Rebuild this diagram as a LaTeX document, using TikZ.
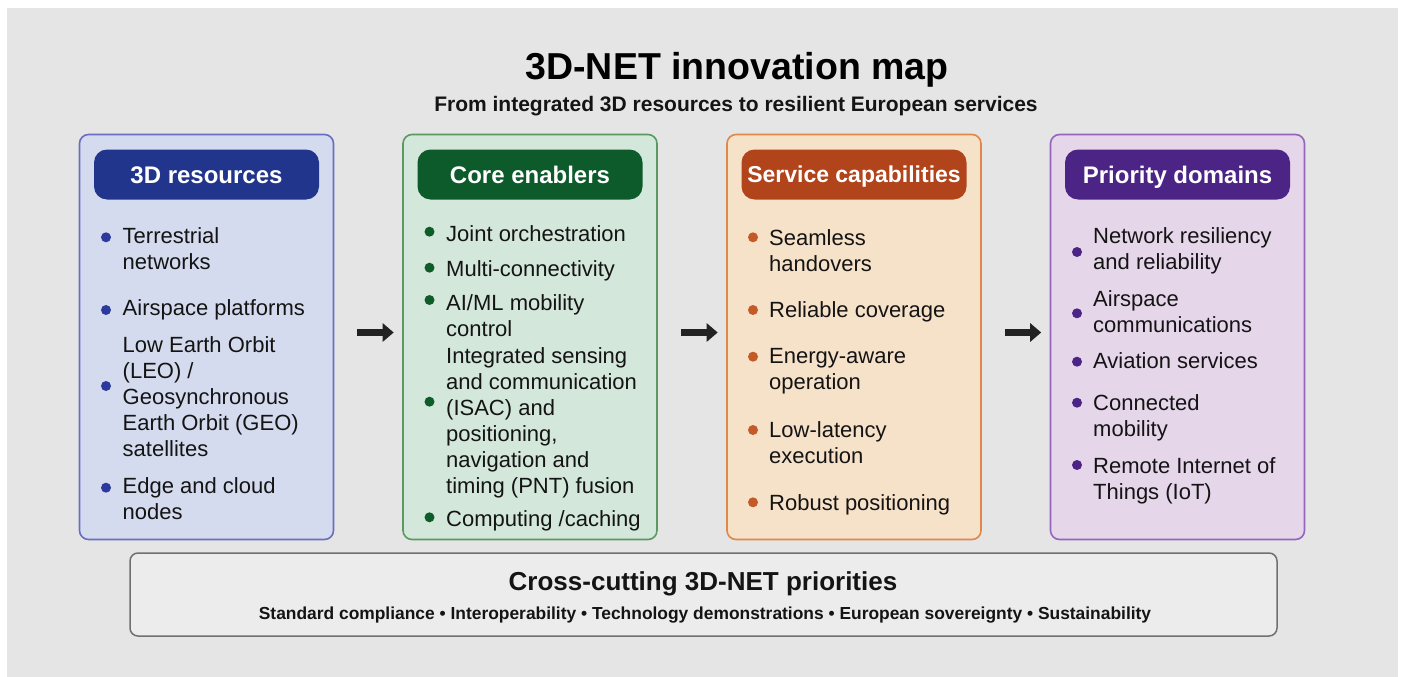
\documentclass[tikz,border=0pt]{standalone}
\usepackage{fontspec}
\setmainfont{Liberation Sans}
\usetikzlibrary{arrows.meta}
\definecolor{bgc}{HTML}{E5E5E5}
\definecolor{txt}{HTML}{141414}
\definecolor{fillA}{HTML}{D5DBEE}
\definecolor{lineA}{HTML}{6A6EC2}
\definecolor{headA}{HTML}{22358C}
\definecolor{dotA}{HTML}{2C3A9E}
\definecolor{fillB}{HTML}{D4E7DB}
\definecolor{lineB}{HTML}{5A9A60}
\definecolor{headB}{HTML}{0D5A2B}
\definecolor{dotB}{HTML}{0F5C2B}
\definecolor{fillC}{HTML}{F6E1C9}
\definecolor{lineC}{HTML}{E0874A}
\definecolor{headC}{HTML}{B1441B}
\definecolor{dotC}{HTML}{C45A28}
\definecolor{fillD}{HTML}{E5D6EA}
\definecolor{lineD}{HTML}{9464C0}
\definecolor{headD}{HTML}{4B2485}
\definecolor{dotD}{HTML}{4B2485}
\definecolor{barfill}{HTML}{ECECEC}
\definecolor{barline}{HTML}{707070}
\definecolor{arrowc}{HTML}{222222}
\begin{document}
\begin{tikzpicture}[x=1pt,y=-1pt,
  colbox/.style={draw, line width=1.6pt, rounded corners=9pt, minimum width=254pt, minimum height=405pt, inner sep=0pt},
  pill/.style={rounded corners=13pt, minimum width=225pt, minimum height=50pt, inner sep=0pt, text=white, font=\bfseries\fontsize{24}{28}\selectfont, text height=17.2pt, text depth=0pt},
  item/.style={anchor=north west, inner sep=0pt, align=left, text=txt, font=\fontsize{22}{26}\selectfont},
  bigarrow/.style={draw=arrowc, line width=7.5pt, -{Triangle[length=11pt,width=18pt]}, shorten <=23pt, shorten >=8.5pt}
]
\useasboundingbox (0,0) rectangle (1405,677);
\fill[white] (0,0) rectangle (1405,677);
\fill[bgc] (7,8) rectangle (1398,677);

% title
\node[anchor=base, inner sep=0pt, text=black, font=\bfseries\fontsize{37.5}{42}\selectfont] (title) at (737,79) {3D-NET innovation map};
\node[anchor=base, inner sep=0pt, text=txt, font=\bfseries\fontsize{21}{25}\selectfont] (subtitle) at (736,111) {From integrated 3D resources to resilient European services};

% columns
\node[colbox, fill=fillA, draw=lineA] (c1) at (206.5,337) {};
\node[colbox, fill=fillB, draw=lineB] (c2) at (530,337) {};
\node[colbox, fill=fillC, draw=lineC] (c3) at (854,337) {};
\node[colbox, fill=fillD, draw=lineD] (c4) at (1177.5,337) {};

% headers
\node[pill, fill=headA] (h1) at (206.5,174.5) {3D resources};
\node[pill, fill=headB] (h2) at (530,174.5) {Core enablers};
\node[pill, fill=headC, font=\bfseries\fontsize{23}{27}\selectfont, text height=16.5pt] (h3) at (854,174.5) {Service capabilities};
\node[pill, fill=headD] (h4) at (1177.5,174.5) {Priority domains};

% column 1
\fill[dotA] (106,237.3) circle (5pt);
\node[item] (c1a) at (122.5,225.1) {\strut Terrestrial\\networks};
\fill[dotA] (106,310) circle (5pt);
\node[item] (c1b) at (122.5,296.8) {\strut Airspace platforms};
\fill[dotA] (106,386) circle (5pt);
\node[item] (c1c) at (122.5,334.5) {\strut Low Earth Orbit\\(LEO) /\\Geosynchronous\\Earth Orbit (GEO)\\satellites};
\fill[dotA] (106,487.7) circle (5pt);
\node[item] (c1d) at (122.5,474.8) {\strut Edge and cloud\\nodes};

% column 2
\fill[dotB] (429.5,231.7) circle (5pt);
\node[item] (c2a) at (446,222.8) {\strut Joint orchestration};
\fill[dotB] (429.5,267.7) circle (5pt);
\node[item] (c2b) at (446,258.5) {\strut Multi-connectivity};
\fill[dotB] (429.5,300) circle (5pt);
\node[item] (c2c) at (446,291.8) {\strut AI/ML mobility\\control};
\fill[dotB] (429.5,401.7) circle (5pt);
\node[item] (c2d) at (446,345.1) {\strut Integrated sensing\\and communication\\(ISAC) and\\positioning,\\navigation and\\timing (PNT) fusion};
\fill[dotB] (429.5,517.3) circle (5pt);
\node[item] (c2e) at (446,508.5) {\strut Computing /caching};

% column 3
\fill[dotC] (753,237.3) circle (5pt);
\node[item] (c3a) at (769,226.8) {\strut Seamless\\handovers};
\fill[dotC] (753,310) circle (5pt);
\node[item] (c3b) at (769,299.1) {\strut Reliable coverage};
\fill[dotC] (753,356.7) circle (5pt);
\node[item] (c3c) at (769,345.1) {\strut Energy-aware\\operation};
\fill[dotC] (753,430) circle (5pt);
\node[item] (c3d) at (769,419.1) {\strut Low-latency\\execution};
\fill[dotC] (753,502.3) circle (5pt);
\node[item] (c3e) at (769,491.8) {\strut Robust positioning};

% column 4
\fill[dotD] (1077,252) circle (5pt);
\node[item] (c4a) at (1093,225.1) {\strut Network resiliency\\and reliability};
\fill[dotD] (1077,313.3) circle (5pt);
\node[item] (c4b) at (1093,287.8) {\strut Airspace\\communications};
\fill[dotD] (1077,361.7) circle (5pt);
\node[item] (c4c) at (1093,350.1) {\strut Aviation services};
\fill[dotD] (1077,402.7) circle (5pt);
\node[item] (c4d) at (1093,391.8) {\strut Connected\\mobility};
\fill[dotD] (1077,465) circle (5pt);
\node[item] (c4e) at (1093,455.1) {\strut Remote Internet of\\Things (IoT)};

% arrows
\draw[bigarrow] ([yshift=4.5pt]c1.east) -- ([yshift=4.5pt]c2.west);
\draw[bigarrow] ([yshift=4.5pt]c2.east) -- ([yshift=4.5pt]c3.west);
\draw[bigarrow] ([yshift=4.5pt]c3.east) -- ([yshift=4.5pt]c4.west);

% bottom bar
\node[draw=barline, fill=barfill, line width=1.5pt, rounded corners=8pt, minimum width=1147pt, minimum height=83pt, inner sep=0pt] (bar) at (703.5,594.5) {};
\node[anchor=base, inner sep=0pt, text=txt, font=\bfseries\fontsize{26}{30}\selectfont] (bartitle) at (703,590) {Cross-cutting 3D-NET priorities};
\node[anchor=base, inner sep=0pt, text=txt, font=\bfseries\fontsize{17.4}{20}\selectfont] (barsub) at (705,619) {Standard compliance • Interoperability • Technology demonstrations • European sovereignty • Sustainability};
\end{tikzpicture}
\end{document}
